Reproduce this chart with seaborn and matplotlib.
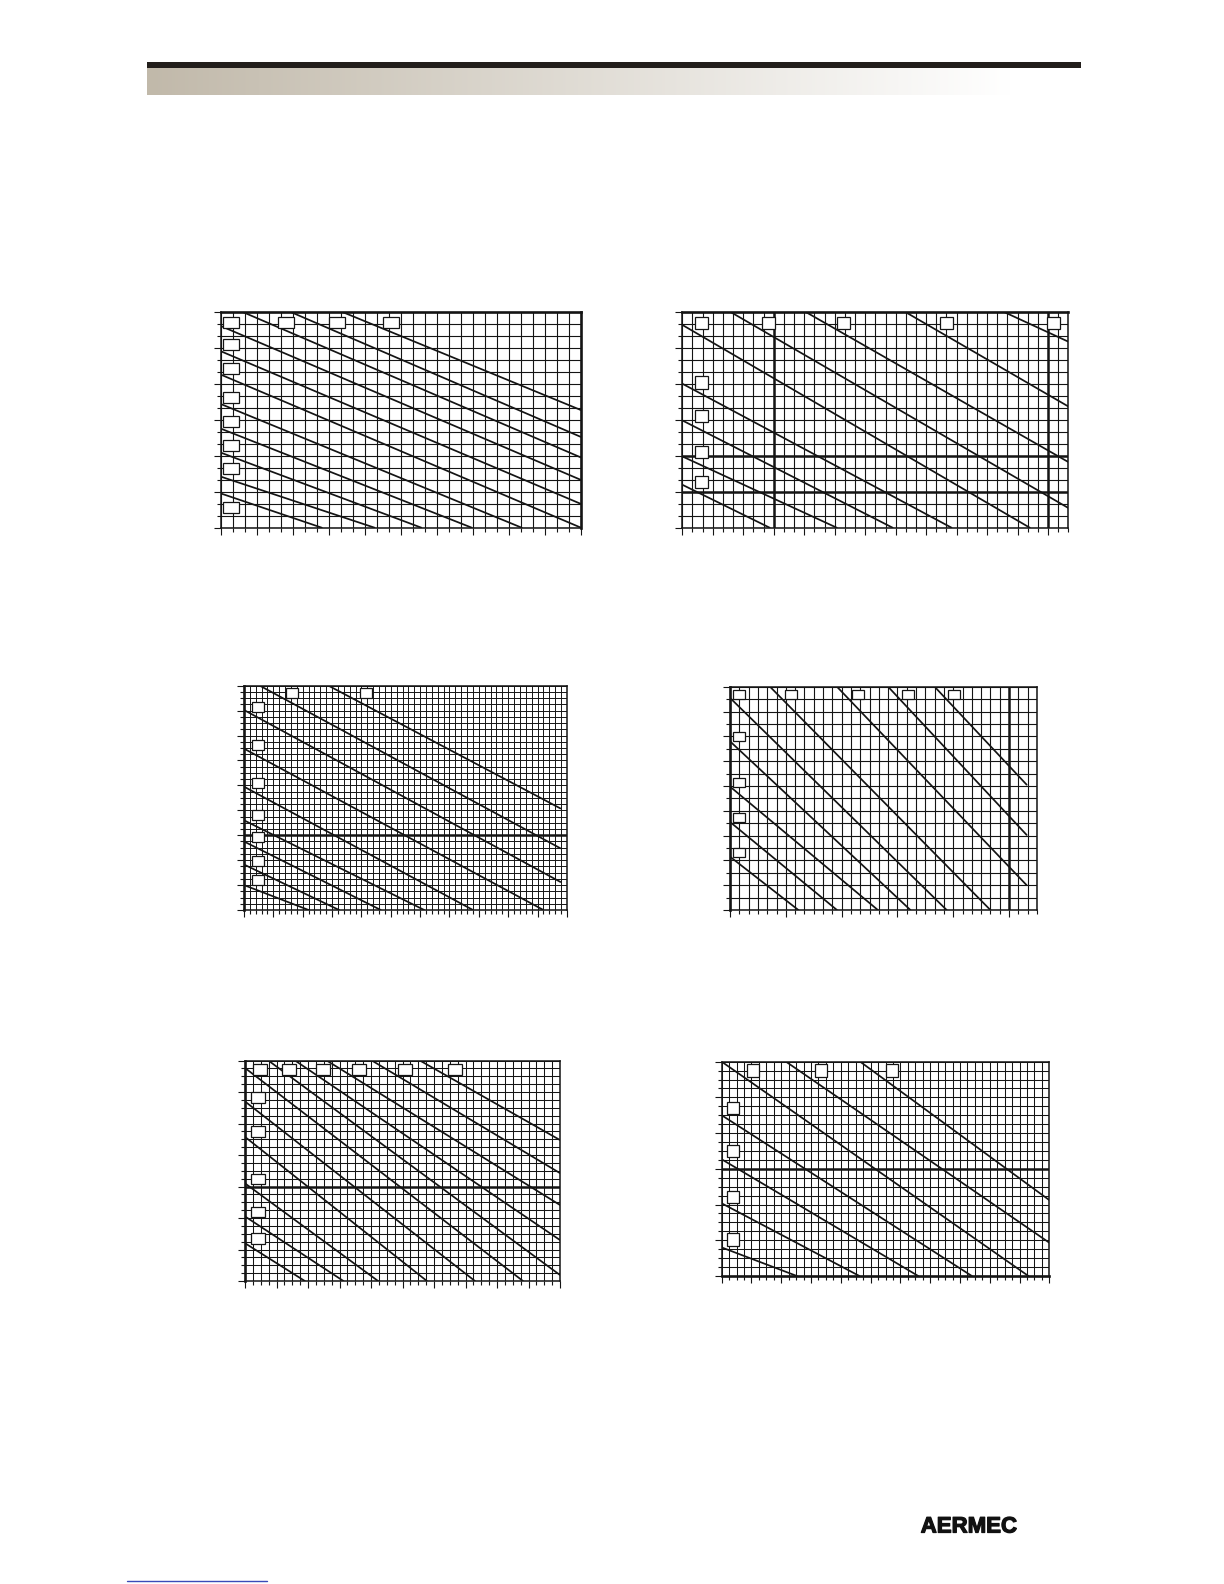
import numpy as np
import pandas as pd
import matplotlib
matplotlib.use("Agg")
import matplotlib.pyplot as plt
import matplotlib.patheffects as pe
import seaborn as sns
from matplotlib.patches import Rectangle
from matplotlib.lines import Line2D

sns.set_theme(style="white")
plt.rcParams["font.family"] = ["DejaVu Sans"]

W, H = 1224, 1584

# ---------------- data: curves per panel (grid units: columns, rows) ----------------
# Panel 1 (top left)
p1_x0 = [10.06, 5.75, 1.75, 0, 0, 0, 0, 0, 0, 0, 0]
p1_y0 = [18, 18, 18, 16.8, 14.7, 12.75, 10.3, 8.25, 6.25, 4.25, 2.85]
p1_x1 = [30, 30, 30, 30, 30, 30, 25.06, 20.9, 16.7, 12.8, 8.4]
p1_y1 = [9.8, 7.56, 5.85, 3.98, 1.98, 0, 0, 0, 0, 0, 0]
p1_box_x = [0.17, 4.75, 9.0, 13.5, 0.17, 0.17, 0.17, 0.17, 0.17, 0.17, 0.17]
p1_box_y = [16.64, 16.64, 16.64, 16.64, 14.8, 12.8, 10.4, 8.4, 6.4, 4.5, 1.23]

# Panel 2 (top right)
p2_x0 = [4.7, 12.1, 21.9, 31.6, 0, 0, 0, 0, 0]
p2_y0 = [18, 18, 18, 18, 16.9, 12.0, 8.94, 5.94, 3.58]
p2_x1 = [38, 38, 38, 38, 34.2, 26.5, 20.7, 15.2, 8.6]
p2_y1 = [1.64, 5.47, 10.1, 15.5, 0, 0, 0, 0, 0]
p2_box_x = [1.25, 7.84, 15.2, 25.4, 35.9, 1.25, 1.25, 1.25, 1.25]
p2_box_y = [16.56, 16.56, 16.56, 16.56, 16.56, 11.6, 8.8, 5.8, 3.3]

# Panel 3 (middle left)
p3_x0 = [2.7, 14.4, 0, 0, 0, 0, 0, 0, 0]
p3_y0 = [36, 36, 32.1, 25.9, 19.8, 14.4, 11.0, 7.3, 4.0]
p3_x1 = [53.9, 53.9, 53.9, 51, 39, 30.7, 23.3, 16.2, 11.0]
p3_y1 = [9.9, 16.3, 4.5, 0, 0, 0, 0, 0, 0]
p3_box_x = [7.15, 19.8, 1.36, 1.36, 1.36, 1.36, 1.36, 1.36, 1.36]
p3_box_y = [34.0, 34.0, 31.8, 25.7, 19.6, 14.4, 10.9, 7.06, 4.0]

# Panel 4 (middle right)
p4_x0 = [4.3, 11.5, 17.0, 22.0, 0, 0, 0, 0, 0]
p4_y0 = [18, 18, 18, 18, 17.1, 13.6, 9.95, 7.1, 4.3]
p4_x1 = [28.0, 31.9, 31.9, 31.9, 23.3, 19.4, 15.9, 11.5, 7.35]
p4_y1 = [0, 2.0, 6.05, 10.1, 0, 0, 0, 0, 0]
p4_box_x = [0.32, 5.9, 13.1, 18.5, 23.4, 0.32, 0.32, 0.32, 0.32]
p4_box_y = [17.0, 17.0, 17.0, 17.0, 17.0, 13.6, 9.9, 7.1, 4.3]

# Panel 5 (bottom left)
p5_x0 = [22.2, 16.1, 10.37, 6.35, 2.96, 0, 0, 0, 0, 0, 0]
p5_y0 = [28, 28, 28, 28, 28, 27.05, 22.8, 18.3, 12.4, 8.2, 4.8]
p5_x1 = [40, 40, 40, 40, 40, 35.3, 29.2, 23.1, 16.9, 12.5, 7.6]
p5_y1 = [17.9, 13.7, 9.65, 5.2, 0.76, 0, 0, 0, 0, 0, 0]
p5_box_x = [1.0, 4.7, 9.0, 13.6, 19.4, 25.8, 0.76, 0.76, 0.76, 0.76, 0.76]
p5_box_y = [26.2, 26.2, 26.2, 26.2, 26.2, 26.2, 22.6, 18.3, 12.3, 8.1, 4.7]

# Panel 6 (bottom right)
p6_x0 = [18.6, 8.64, 0, 0, 0, 0, 0]
p6_y0 = [24, 24, 24, 18.0, 13.07, 8.14, 3.2]
p6_x1 = [44, 44, 41.2, 33.6, 26.4, 18.5, 10.1]
p6_y1 = [8.5, 3.73, 0, 0, 0, 0, 0]
p6_box_x = [3.36, 12.5, 22.0, 0.67, 0.67, 0.67, 0.67]
p6_box_y = [22.3, 22.3, 22.3, 18.1, 13.3, 8.14, 3.4]

# ---------------- layout ----------------
panels = [
    dict(rect=(221, 311.7, 581, 527.7), nc=30, nr=18, xm=3, ym=3, bw=1.33, bh=0.92,
         tv=[], th=[], ts=["top", "right"], glw=0.8,
         d=(p1_x0, p1_y0, p1_x1, p1_y1), bx=p1_box_x, by=p1_box_y),
    dict(rect=(682.3, 311.7, 1068.4, 527.7), nc=38, nr=18, xm=3, ym=3, bw=1.28, bh=1.04,
         tv=[9, 36], th=[3, 6], ts=["top"], glw=0.8,
         d=(p2_x0, p2_y0, p2_x1, p2_y1), bx=p2_box_x, by=p2_box_y),
    dict(rect=(244, 685.7, 566.9, 910), nc=55, nr=36, xm=5, ym=4, bw=2.04, bh=1.6,
         tv=[], th=[12], ts=["left"], glw=0.7,
         d=(p3_x0, p3_y0, p3_x1, p3_y1), bx=p3_box_x, by=p3_box_y),
    dict(rect=(730, 686.7, 1036.9, 910), nc=33, nr=18, xm=6, ym=2, bw=1.3, bh=0.73,
         tv=[30], th=[], ts=["left"], glw=0.8,
         d=(p4_x0, p4_y0, p4_x1, p4_y1), bx=p4_box_x, by=p4_box_y),
    dict(rect=(245, 1060.5, 560, 1281), nc=40, nr=28, xm=4, ym=4, bw=1.75, bh=1.35,
         tv=[], th=[12], ts=["left"], glw=0.75,
         d=(p5_x0, p5_y0, p5_x1, p5_y1), bx=p5_box_x, by=p5_box_y),
    dict(rect=(721.7, 1061.7, 1049.3, 1276), nc=44, nr=24, xm=4, ym=4, bw=1.7, bh=1.4,
         tv=[], th=[12], ts=["bottom"], glw=0.75,
         d=(p6_x0, p6_y0, p6_x1, p6_y1), bx=p6_box_x, by=p6_box_y),
]

fig = plt.figure(figsize=(W / 100, H / 100), dpi=100)
fig.patch.set_facecolor("white")

INK = "#141414"

for p in panels:
    L, T, R, B = p["rect"]
    ax = fig.add_axes([L / W, 1 - B / H, (R - L) / W, (B - T) / H])
    ax.set_facecolor("white")
    x0, y0, x1, y1 = p["d"]
    n = len(x0)
    df = pd.DataFrame({
        "curve": np.repeat(np.arange(n), 2),
        "x": np.column_stack([x0, x1]).ravel(),
        "y": np.column_stack([y0, y1]).ravel(),
    })
    sns.lineplot(data=df, x="x", y="y", units="curve", estimator=None, sort=False,
                 color=INK, linewidth=1.25, legend=False, ax=ax, zorder=3)
    ax.set_xlim(0, p["nc"])
    ax.set_ylim(0, p["nr"])
    ax.set_xlabel("")
    ax.set_ylabel("")
    ax.set_xticks(np.arange(0, p["nc"] + 1, p["xm"]))
    ax.set_yticks(np.arange(0, p["nr"] + 1, p["ym"]))
    ax.set_xticks(np.arange(0, p["nc"] + 1), minor=True)
    ax.set_yticks(np.arange(0, p["nr"] + 1), minor=True)
    ax.grid(True, which="both", color=INK, linewidth=p["glw"], zorder=1)
    ax.set_axisbelow(True)
    ax.tick_params(which="major", direction="out", length=5, width=0.8, color=INK,
                   left=True, bottom=True, labelleft=False, labelbottom=False)
    ax.tick_params(which="minor", direction="out", length=3, width=0.8, color=INK,
                   left=True, bottom=True, labelleft=False, labelbottom=False)
    for v in p["tv"]:
        ax.axvline(v, color=INK, linewidth=1.8, zorder=2)
    for h in p["th"]:
        ax.axhline(h, color=INK, linewidth=1.8, zorder=2)
    for name, sp in ax.spines.items():
        sp.set_visible(True)
        sp.set_color(INK)
        sp.set_linewidth(1.9 if name in p["ts"] else 1.1)
        sp.set_zorder(4)
    for bx, by in zip(p["bx"], p["by"]):
        ax.add_patch(Rectangle((bx, by), p["bw"], p["bh"], facecolor="white",
                               edgecolor=INK, linewidth=0.9, zorder=6, clip_on=False))

# ---------------- header band ----------------
hx0, hx1 = 147, 1081
axh = fig.add_axes([hx0 / W, 1 - 95 / H, (hx1 - hx0) / W, (95 - 67) / H])
xs = np.linspace(hx0, hx1, 600)
t = np.clip((xs - hx0) / (1010 - hx0), 0, 1)
left_c = np.array([193, 185, 170]) / 255.0
grad = left_c[None, :] * (1 - t[:, None]) + np.ones(3)[None, :] * t[:, None]
axh.imshow(grad[None, :, :], aspect="auto", extent=(0, 1, 0, 1))
axh.set_axis_off()
fig.add_artist(Rectangle((hx0 / W, 1 - 67.5 / H), (hx1 - hx0) / W, 5.5 / H,
                         transform=fig.transFigure, facecolor="#221e1b",
                         edgecolor="none"))

# ---------------- footer ----------------
fig.text(969 / W, 1 - 1527 / H, "AERMEC", ha="center", va="center",
         fontsize=16, fontweight="bold",
         family=["Liberation Sans", "DejaVu Sans"], color="#111111",
         path_effects=[pe.withStroke(linewidth=0.9, foreground="#111111")])
fig.add_artist(Line2D([127 / W, 267 / W], [1 - 1581 / H] * 2,
                      transform=fig.transFigure, color="#3a4ab8", linewidth=1.0))

fig.savefig("out.png", dpi=100, facecolor="white")
